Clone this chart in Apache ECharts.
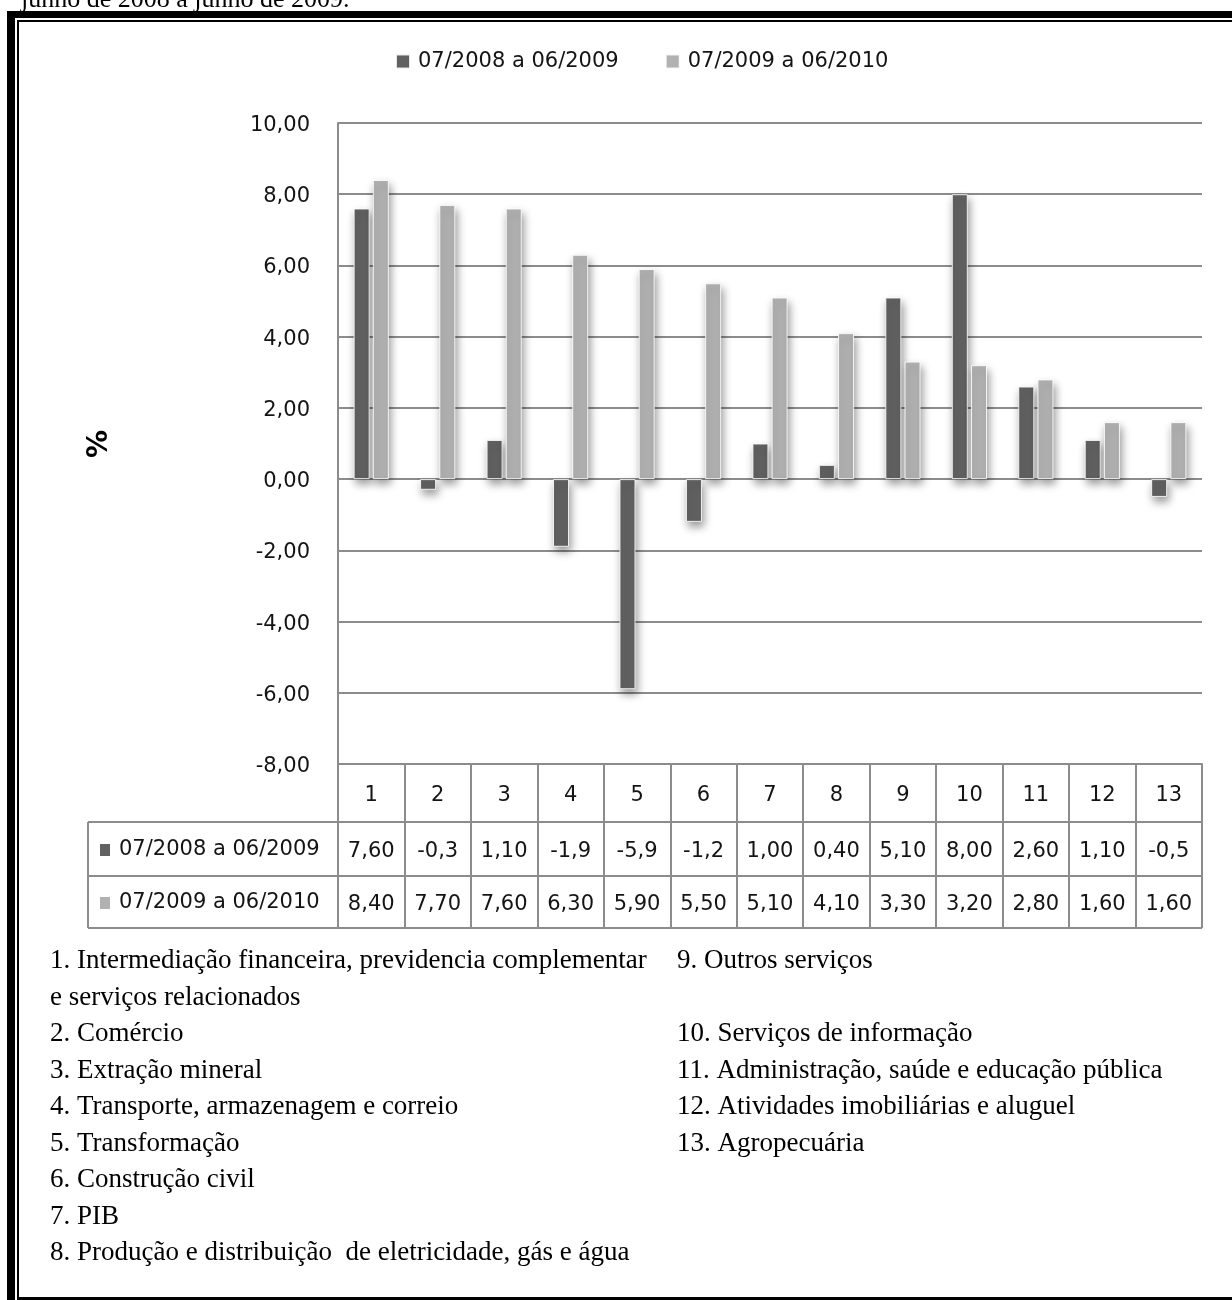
<!DOCTYPE html>
<html>
<head>
<meta charset="utf-8">
<script src="https://cdn.jsdelivr.net/npm/echarts@6/dist/echarts.min.js"></script>
<style>
  html, body { margin: 0; padding: 0; background: #ffffff; }
  #chart { width: 1232px; height: 1300px; }
</style>
</head>
<body>
<div id="chart"></div>
<script>
// Setores (numerados) e variação percentual em cada período
const categories = ['1', '2', '3', '4', '5', '6', '7', '8', '9', '10', '11', '12', '13'];
const seriesNames = ['07/2008 a 06/2009', '07/2009 a 06/2010'];
const values2008 = [7.6, -0.3, 1.1, -1.9, -5.9, -1.2, 1.0, 0.4, 5.1, 8.0, 2.6, 1.1, -0.5];
const values2009 = [8.4, 7.7, 7.6, 6.3, 5.9, 5.5, 5.1, 4.1, 3.3, 3.2, 2.8, 1.6, 1.6];
const yTicks = { min: -8, max: 10, interval: 2 };

// Legenda dos setores, em duas colunas
const sectorsLeft = [
  '1. Intermediação financeira, previdencia complementar',
  'e serviços relacionados',
  '2. Comércio',
  '3. Extração mineral',
  '4. Transporte, armazenagem e correio',
  '5. Transformação',
  '6. Construção civil',
  '7. PIB',
  '8. Produção e distribuição  de eletricidade, gás e água'
];
const sectorsRight = [
  '9. Outros serviços',
  '',
  '10. Serviços de informação',
  '11. Administração, saúde e educação pública',
  '12. Atividades imobiliárias e aluguel',
  '13. Agropecuária'
];
const captionTop = 'junho de 2008 a junho de 2009.';

const DARK = '#616161';
const LIGHT = '#b1b1b1';
const GRID = '#8c8c8c';
const TEXT = '#141414';
const SANS = '"DejaVu Sans", sans-serif';
const SERIF = '"Liberation Serif", "Times New Roman", serif';

// Formato numérico brasileiro como na tabela de dados
function fmt(v) {
  const s = v < 0 ? v.toFixed(1) : v.toFixed(2);
  return s.replace('.', ',');
}

const chart = echarts.init(document.getElementById('chart'), null, { renderer: 'canvas' });

// Elementos gráficos: moldura, legenda da tabela, linhas da tabela, notas
const graphics = [];

// Moldura dupla (espessa + fina)
graphics.push({ type: 'rect', shape: { x: 7, y: 11, width: 1240, height: 7 }, style: { fill: '#000' }, silent: true });
graphics.push({ type: 'rect', shape: { x: 7, y: 11, width: 8, height: 1300 }, style: { fill: '#000' }, silent: true });
graphics.push({ type: 'rect', shape: { x: 17, y: 20, width: 1230, height: 2 }, style: { fill: '#000' }, silent: true });
graphics.push({ type: 'rect', shape: { x: 17, y: 20, width: 2, height: 1280 }, style: { fill: '#000' }, silent: true });
graphics.push({ type: 'rect', shape: { x: 17, y: 1297, width: 1230, height: 3 }, style: { fill: '#000' }, silent: true });

// Texto acima da moldura
graphics.push({
  type: 'text', x: 21, y: 0, silent: true,
  style: { text: captionTop, font: '26px ' + SERIF, fill: '#000', align: 'left', verticalAlign: 'middle' }
});

// Linhas da tabela de dados
const tableLines = [
  [338, 822, 1202, 822],
  [88, 876, 1202, 876],
  [88, 928, 1202, 928],
  [88, 822, 88, 928],
  [88, 822, 338, 822]
];
tableLines.forEach(function (l) {
  graphics.push({
    type: 'line', silent: true,
    shape: { x1: l[0], y1: l[1], x2: l[2], y2: l[3] },
    style: { stroke: GRID, lineWidth: 2 }
  });
});

// Chaves da legenda na tabela
[[DARK, 850], [LIGHT, 903]].forEach(function (k, i) {
  graphics.push({ type: 'rect', silent: true, shape: { x: 100, y: k[1] - 6, width: 10, height: 12 }, style: { fill: k[0] } });
  graphics.push({
    type: 'text', silent: true, x: 119, y: k[1],
    style: { text: seriesNames[i], font: '21px ' + SANS, fill: TEXT, align: 'left', verticalAlign: 'middle' }
  });
});

// Título do eixo vertical
graphics.push({
  type: 'text', silent: true, x: 100, y: 444, rotation: Math.PI / 2,
  style: { text: '%', font: 'bold 28px ' + SANS, fill: '#000', align: 'center', verticalAlign: 'middle' }
});

// Notas dos setores
const lineStep = 36.5;
sectorsLeft.forEach(function (t, i) {
  graphics.push({
    type: 'text', silent: true, x: 50, y: 961 + i * lineStep,
    style: { text: t, font: '27px ' + SERIF, fill: '#000', align: 'left', verticalAlign: 'middle' }
  });
});
sectorsRight.forEach(function (t, i) {
  if (!t) return;
  graphics.push({
    type: 'text', silent: true, x: 677, y: 961 + i * lineStep,
    style: { text: t, font: '27px ' + SERIF, fill: '#000', align: 'left', verticalAlign: 'middle' }
  });
});

const barStyle = function (color) {
  return {
    color: color,
    borderColor: 'rgba(255,255,255,0.85)',
    borderWidth: 1,
    shadowColor: 'rgba(0,0,0,0.4)',
    shadowBlur: 8,
    shadowOffsetX: 2,
    shadowOffsetY: 5
  };
};

const option = {
  animation: false,
  backgroundColor: '#ffffff',
  textStyle: { fontFamily: SANS },
  legend: {
    left: 390,
    top: 46,
    itemWidth: 14,
    itemHeight: 14,
    itemGap: 46,
    icon: 'rect',
    textStyle: { fontSize: 21, fontFamily: SANS, color: TEXT, padding: [0, 0, 0, 3] },
    data: seriesNames
  },
  grid: { left: 338, right: 30, top: 123, bottom: 536, containLabel: false },
  xAxis: {
    type: 'category',
    data: categories,
    axisLine: { onZero: false, show: true, lineStyle: { color: GRID, width: 2 } },
    axisTick: { show: true, interval: 0, length: 164, lineStyle: { color: GRID, width: 2 } },
    axisLabel: {
      interval: 0,
      margin: 3,
      formatter: function (value, idx) {
        return '{n|' + value + '}\n{v|' + fmt(values2008[idx]) + '}\n{v|' + fmt(values2009[idx]) + '}';
      },
      rich: {
        n: { fontSize: 21, fontFamily: SANS, color: TEXT, lineHeight: 58, align: 'center' },
        v: { fontSize: 21, fontFamily: SANS, color: TEXT, lineHeight: 53, align: 'center' }
      }
    },
    splitLine: { show: false }
  },
  yAxis: {
    type: 'value',
    min: yTicks.min,
    max: yTicks.max,
    interval: yTicks.interval,
    axisLine: { show: true, lineStyle: { color: GRID, width: 2 } },
    axisTick: { show: false },
    axisLabel: {
      margin: 28,
      fontSize: 21,
      fontFamily: SANS,
      color: TEXT,
      formatter: function (v) { return '{t|' + v.toFixed(2).replace('.', ',') + '}'; },
      rich: { t: { fontSize: 21, fontFamily: SANS, color: TEXT, padding: [5, 0, 0, 0] } }
    },
    splitLine: { show: true, lineStyle: { color: GRID, width: 2 } }
  },
  series: [
    {
      name: seriesNames[0],
      type: 'bar',
      data: values2008,
      barWidth: 16,
      barGap: '20%',
      itemStyle: barStyle(DARK)
    },
    {
      name: seriesNames[1],
      type: 'bar',
      data: values2009,
      barWidth: 16,
      barGap: '20%',
      itemStyle: barStyle(LIGHT)
    }
  ],
  graphic: graphics
};

chart.setOption(option);
</script>
</body>
</html>
